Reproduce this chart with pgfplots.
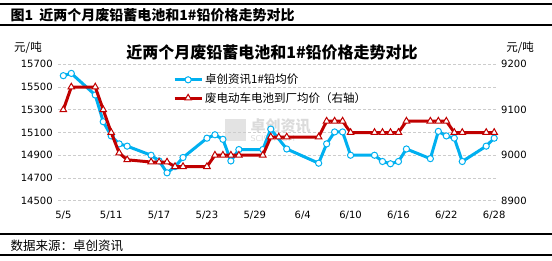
\documentclass[border=0pt]{standalone}
\usepackage{fontspec}
\setmainfont{DejaVu Sans}
\newfontfamily\cjk{Noto Sans CJK SC}
\usepackage{pgfplots}
\pgfplotsset{compat=1.18}
\definecolor{lblue}{HTML}{00B0F0}
\definecolor{dred}{HTML}{C00000}

% 1#铅均价 (左轴), 日序号从 5/5 起
\pgfplotstableread{
d  p
0  15600
1  15620
4  15430
5  15195
6  15070
7  15000
8  14980
11 14900
12 14850
13 14745
14 14800
15 14880
18 15050
19 15080
20 15040
21 14850
22 14950
25 14950
26 15130
28 14955
32 14830
33 15000
34 15105
35 15105
36 14900
39 14900
40 14845
41 14825
42 14845
43 14955
46 14870
47 15110
48 15070
49 15050
50 14845
53 14980
54 15050
}\leadtab

% 废电动车电池到厂均价 (右轴)
\pgfplotstableread{
d  p
0  9100
1  9150
4  9150
5  9100
6  9050
7  9005
8  8990
11 8985
12 8985
13 8985
14 8975
15 8975
18 8975
19 9000
20 9000
21 9000
22 9000
25 9000
26 9040
27 9040
28 9040
32 9040
33 9075
34 9075
35 9075
36 9050
39 9050
40 9050
41 9050
42 9050
43 9075
46 9075
47 9075
48 9075
49 9050
50 9050
53 9050
54 9050
}\battab

\pgfplotsset{
  base/.style={
    at={(58.3pt,-200.7pt)}, anchor=south west,
    scale only axis, width=439.4pt, height=136.4pt,
    xmin=-0.63, xmax=54.44,
    axis line style={draw=none}, tick style={draw=none},
    ticklabel style={font=\fontsize{10}{12}\selectfont},
    scaled y ticks=false,
    /pgf/number format/assume math mode=true,
    /pgf/number format/1000 sep={},
    clip=false,
  },
  bluestyle/.style={color=lblue, line width=3pt, mark=*, mark size=3.1pt,
    mark options={fill=white, draw=lblue, line width=1pt}},
  redstyle/.style={color=dred, line width=3pt, mark=triangle*, mark size=3.8pt,
    mark options={fill=white, draw=dred, line width=1pt}},
}

\begin{document}
\begin{tikzpicture}
\useasboundingbox (0pt,0pt) rectangle (552pt,-260pt);
\draw[line width=1.2pt] (0pt,-4pt) -- (552pt,-4pt);
\draw[line width=1.2pt] (0pt,-25pt) -- (552pt,-25pt);
\draw[line width=1.2pt] (0pt,-234pt) -- (552pt,-234pt);
\draw[line width=1.2pt] (0pt,-255pt) -- (552pt,-255pt);
\node[anchor=west, font=\cjk\bfseries\fontsize{14}{16}\selectfont] at (7pt,-15pt) {图1\ \ 近两个月废铅蓄电池和1\#铅价格走势对比};
\node[anchor=west, font=\cjk\fontsize{12.5}{14}\selectfont] at (7pt,-245.5pt) {数据来源：卓创资讯};
\node[font=\cjk\bfseries\fontsize{16}{18}\selectfont] at (272pt,-52pt) {近两个月废铅蓄电池和1\#铅价格走势对比};
\node[font=\cjk\fontsize{11.5}{13}\selectfont] at (28pt,-48pt) {元/吨};
\node[font=\cjk\fontsize{11.5}{13}\selectfont] at (520pt,-48pt) {元/吨};
% watermark
\fill[gray!22] (225pt,-119pt) rectangle (246pt,-141pt);
\node[anchor=west, text=gray!28, font=\cjk\bfseries\fontsize{15}{16}\selectfont] at (247pt,-126pt) {卓创资讯};
\node[anchor=west, text=gray!28, font=\fontsize{8}{9}\selectfont] at (247pt,-139pt) {SCI99.COM};

\begin{axis}[base,
  ymin=14500, ymax=15700,
  ytick={14500,14700,...,15700},
  xtick={0,6,...,54},
  xticklabels={5/5,5/11,5/17,5/23,5/29,6/4,6/10,6/16,6/22,6/28},
  xticklabel style={yshift=-5pt},
  axis lines=left,
  ymajorgrids, grid style={gray!40, dash pattern=on 3pt off 2pt, line width=0.6pt},
]
\addplot[bluestyle] table[x=d, y=p] {\leadtab};
\end{axis}

\begin{axis}[base,
  ymin=8900, ymax=9200,
  ytick={8900,9000,9100,9200},
  axis y line*=right, axis x line=none,
  legend style={draw=none, fill=none, at={(0.254,0.958)}, anchor=north west,
    font=\cjk\fontsize{11.5}{13}\selectfont, row sep=3pt},
  legend cell align=left,
  legend image code/.code={\draw[mark repeat=2, mark phase=2, #1] plot coordinates {(0cm,0cm) (0.475cm,0cm) (0.95cm,0cm)};},
]
\addlegendimage{bluestyle}
\addlegendentry{卓创资讯1\#铅均价}
\addplot[redstyle] table[x=d, y=p] {\battab};
\addlegendentry{废电动车电池到厂均价（右轴）}
\end{axis}
\end{tikzpicture}
\end{document}
